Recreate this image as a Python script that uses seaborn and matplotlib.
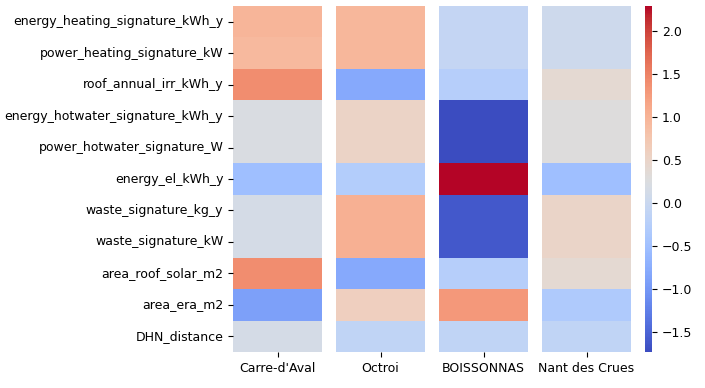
import matplotlib
matplotlib.use("Agg")
import matplotlib.pyplot as plt
import seaborn as sns
import numpy as np
import pandas as pd

features = ["energy_heating_signature_kWh_y", "power_heating_signature_kW",
            "roof_annual_irr_kWh_y", "energy_hotwater_signature_kWh_y",
            "power_hotwater_signature_W", "energy_el_kWh_y", "waste_signature_kg_y",
            "waste_signature_kW", "area_roof_solar_m2", "area_era_m2", "DHN_distance"]
sites = ["Carre-d'Aval", "Octroi", "BOISSONNAS", "Nant des Crues"]

carre = [0.98, 0.93, 1.41, 0.22, 0.22, -0.52, 0.14, 0.14, 1.41, -0.9, 0.14]
octroi = [0.96, 0.96, -0.8, 0.52, 0.52, -0.28, 1.04, 1.04, -0.8, 0.6, -0.12]
boisso = [-0.08, -0.08, -0.25, -1.73, -1.73, 2.29, -1.62, -1.62, -0.25, 1.3, -0.12]
nant = [0.05, 0.05, 0.4, 0.28, 0.28, -0.52, 0.5, 0.5, 0.4, -0.32, -0.12]

df = pd.DataFrame({sites[0]: carre, sites[1]: octroi, sites[2]: boisso, sites[3]: nant},
                  index=features)
vmin = df.values.min()
vmax = df.values.max()

fig = plt.figure(figsize=(7.05, 3.88), dpi=100)
H = 388.0
W = 705.0
bottom = 1 - 352 / H
height = (352 - 6) / H
cax = fig.add_axes([645 / W, bottom, 7 / W, height])
for i, s in enumerate(sites):
    left = (233 + i * 103) / W
    ax = fig.add_axes([left, bottom, 89 / W, height])
    sns.heatmap(df[[s]], ax=ax, cmap="coolwarm", vmin=vmin, vmax=vmax,
                cbar=(i == 0), cbar_ax=cax if i == 0 else None,
                yticklabels=(i == 0))
    ax.set_ylabel("")
    if i == 0:
        ax.set_yticklabels(features, rotation=0)
    ax.tick_params(axis="x", rotation=0)
    ax.tick_params(axis="both", labelsize=9)
cax.tick_params(labelsize=9)
fig.savefig("out.png", dpi=100)
